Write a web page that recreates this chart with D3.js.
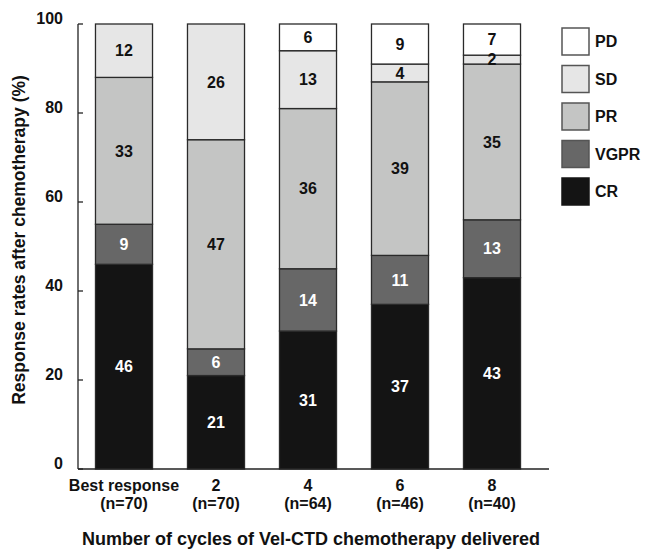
<!DOCTYPE html>
<html>
<head>
<meta charset="utf-8">
<script src="https://cdn.jsdelivr.net/npm/d3@7"></script>
<style>
  body { margin: 0; background: #fff; }
  svg { font-family: "Liberation Sans", Arial, Helvetica, sans-serif; font-weight: bold; }
</style>
</head>
<body>
<div id="chart"></div>
<script>
// categories and their sample sizes
let groups = ['Best response', '2', '4', '6', '8'];
let groupN = ['(n=70)', '(n=70)', '(n=64)', '(n=46)', '(n=40)'];

// response categories, bottom to top
let responses = ['CR', 'VGPR', 'PR', 'SD', 'PD'];
let colors = ['#141414', '#676767', '#c4c5c4', '#e6e6e6', '#ffffff'];

// percentages per response, one value per group
let crVals   = [46, 21, 31, 37, 43];
let vgprVals = [9, 6, 14, 11, 13];
let prVals   = [33, 47, 36, 39, 35];
let sdVals   = [12, 26, 13, 4, 2];
let pdVals   = [0, 0, 6, 9, 7];

let yTicks = [0, 20, 40, 60, 80, 100];

let width = 646;
let height = 549;

let table = groups.map((g, i) => ({
    group: g,
    CR: crVals[i],
    VGPR: vgprVals[i],
    PR: prVals[i],
    SD: sdVals[i],
    PD: pdVals[i]
}));

let svg = d3.select('#chart').append('svg')
    .attr('width', width)
    .attr('height', height);

let x = d3.scaleBand()
    .domain(groups)
    .range([78, 538])
    .paddingInner(0.38)
    .paddingOuter(0.19);

let y = d3.scaleLinear()
    .domain([0, 100])
    .range([469, 24]);

let color = d3.scaleOrdinal().domain(responses).range(colors);

let series = d3.stack().keys(responses)(table);

// bars
let layers = svg.append('g')
    .selectAll('g')
    .data(series)
    .join('g')
    .attr('fill', d => color(d.key));

layers.selectAll('rect')
    .data(d => d.filter(s => s[1] - s[0] > 0))
    .join('rect')
    .attr('x', d => x(d.data.group))
    .attr('y', d => y(d[1]))
    .attr('width', x.bandwidth())
    .attr('height', d => y(d[0]) - y(d[1]))
    .attr('stroke', '#2a2a2a')
    .attr('stroke-width', 1.3);

// segment labels
series.forEach(layer => {
    let dark = layer.key === 'CR' || layer.key === 'VGPR';
    svg.append('g')
        .selectAll('text')
        .data(layer.filter(s => s[1] - s[0] > 0))
        .join('text')
        .attr('x', d => x(d.data.group) + x.bandwidth() / 2)
        .attr('y', d => (y(d[0]) + y(d[1])) / 2)
        .attr('dy', '0.36em')
        .attr('text-anchor', 'middle')
        .attr('font-size', 16)
        .attr('fill', dark ? '#fff' : '#111')
        .text(d => d[1] - d[0]);
});

// y axis
let yAxis = svg.append('g');
yAxis.append('line')
    .attr('x1', 78).attr('x2', 78)
    .attr('y1', y(100)).attr('y2', y(0))
    .attr('stroke', '#222').attr('stroke-width', 1.3);
yAxis.selectAll('line.tick')
    .data(yTicks)
    .join('line')
    .attr('class', 'tick')
    .attr('x1', 78).attr('x2', 83)
    .attr('y1', d => y(d)).attr('y2', d => y(d))
    .attr('stroke', '#222').attr('stroke-width', 1.3);
yAxis.selectAll('text')
    .data(yTicks)
    .join('text')
    .attr('x', 63)
    .attr('y', d => y(d) - 6)
    .attr('dy', '0.36em')
    .attr('text-anchor', 'end')
    .attr('font-size', 16)
    .attr('fill', '#111')
    .text(d => d);

// x axis baseline
svg.append('line')
    .attr('x1', 78).attr('x2', 549)
    .attr('y1', y(0)).attr('y2', y(0))
    .attr('stroke', '#222').attr('stroke-width', 1.3);

let xLabels = svg.append('g')
    .selectAll('text')
    .data(groups)
    .join('text')
    .attr('x', d => x(d) + x.bandwidth() / 2)
    .attr('text-anchor', 'middle')
    .attr('font-size', 16)
    .attr('fill', '#111');
xLabels.append('tspan')
    .attr('x', d => x(d) + x.bandwidth() / 2)
    .attr('y', 491)
    .text(d => d);
xLabels.append('tspan')
    .attr('x', d => x(d) + x.bandwidth() / 2)
    .attr('y', 509)
    .text((d, i) => groupN[i]);

// axis titles
svg.append('text')
    .attr('x', 311)
    .attr('y', 545)
    .attr('text-anchor', 'middle')
    .attr('font-size', 18)
    .attr('fill', '#111')
    .text('Number of cycles of Vel-CTD chemotherapy delivered');

svg.append('text')
    .attr('transform', 'translate(25, 240) rotate(-90)')
    .attr('text-anchor', 'middle')
    .attr('font-size', 17.5)
    .attr('fill', '#111')
    .text('Response rates after chemotherapy (%)');

// legend, top to bottom
let legend = svg.append('g')
    .selectAll('g')
    .data(responses.slice().reverse())
    .join('g')
    .attr('transform', (d, i) => `translate(562, ${28 + i * 37.5})`);

legend.append('rect')
    .attr('width', 27)
    .attr('height', 27)
    .attr('fill', d => color(d))
    .attr('stroke', d => d === 'CR' ? color(d) : '#555')
    .attr('stroke-width', 1.5);

legend.append('text')
    .attr('x', 33)
    .attr('y', 13.5)
    .attr('dy', '0.36em')
    .attr('font-size', 16)
    .attr('fill', '#111')
    .text(d => d);
</script>
</body>
</html>
